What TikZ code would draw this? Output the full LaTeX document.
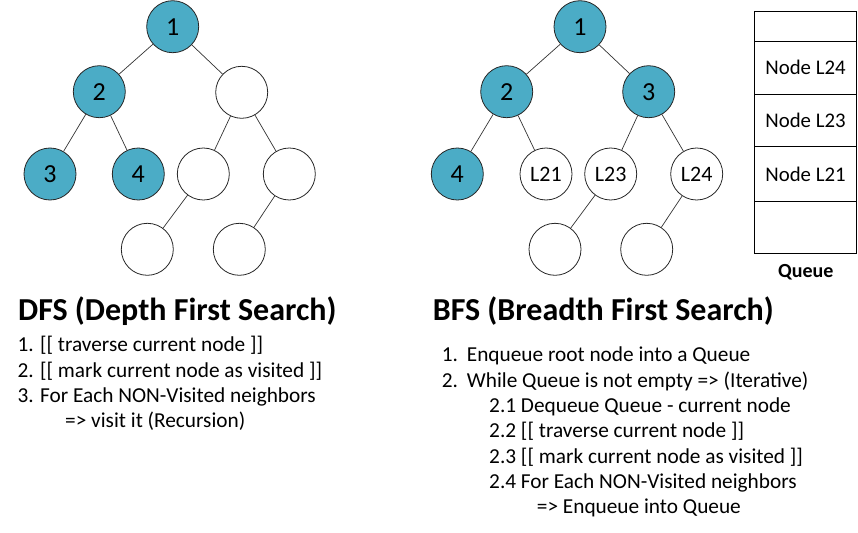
\documentclass[tikz,border=0pt]{standalone}
\usepackage{fontspec}
\setmainfont{Carlito}
\definecolor{visited}{HTML}{4BACC6}
\begin{document}
\begin{tikzpicture}[x=1pt,y=-1pt,
  tn/.style={circle,draw=black!85,line width=0.8pt,minimum size=52pt,inner sep=0pt,font=\fontsize{26}{30}\selectfont},
  vis/.style={tn,fill=visited},
  ln/.style={tn,font=\fontsize{22}{26}\selectfont},
  edge/.style={draw=black!80,line width=0.7pt},
  qcell/.style={draw=black,line width=0.8pt,minimum width=102.4pt,inner sep=0pt,font=\fontsize{20.8}{25}\selectfont},
  title/.style={anchor=base west,inner sep=0pt,font=\bfseries\fontsize{32}{38}\selectfont},
  item/.style={anchor=base west,inner sep=0pt,font=\fontsize{21.3}{25}\selectfont}
]
\useasboundingbox (0,0) rectangle (858,532);
% DFS tree
\node[vis] (a1) at (172.7,26.7) {1};
\node[vis] (a2) at (99.3,91.7) {2};
\node[tn]  (a5) at (241.7,92.3) {};
\node[vis] (a3) at (50,174) {3};
\node[vis] (a4) at (138.3,174) {4};
\node[tn]  (a6) at (203.3,174) {};
\node[tn]  (a7) at (289.3,174) {};
\node[tn]  (a8) at (147.3,249.3) {};
\node[tn]  (a9) at (239.3,249.3) {};
\draw[edge] (a1) -- (a2);
\draw[edge] (a1) -- (a5);
\draw[edge] (a2) -- (a3);
\draw[edge] (a2) -- (a4);
\draw[edge] (a5) -- (a6);
\draw[edge] (a5) -- (a7);
\draw[edge] (a6) -- (a8);
\draw[edge] (a7) -- (a9);
% BFS tree
\node[vis] (b1) at (580,26.7) {1};
\node[vis] (b2) at (506.7,91.7) {2};
\node[vis] (b3) at (648.7,91.7) {3};
\node[vis] (b4) at (457.3,174) {4};
\node[ln]  (b21) at (546,174) {L21};
\node[ln]  (b23) at (610.7,174) {L23};
\node[ln]  (b24) at (696.7,174) {L24};
\node[tn]  (b8) at (555,249.3) {};
\node[tn]  (b9) at (646.7,249.3) {};
\draw[edge] (b1) -- (b2);
\draw[edge] (b1) -- (b3);
\draw[edge] (b2) -- (b4);
\draw[edge] (b2) -- (b21);
\draw[edge] (b3) -- (b23);
\draw[edge] (b3) -- (b24);
\draw[edge] (b23) -- (b8);
\draw[edge] (b24) -- (b9);
% Queue
\node[qcell,minimum height=30pt]   (q0) at (805.5,26.7) {};
\node[qcell,minimum height=52.3pt] (q1) at (805.5,67.85) {Node L24};
\node[qcell,minimum height=52.7pt] (q2) at (805.5,120.35) {Node L23};
\node[qcell,minimum height=54.3pt] (q3) at (805.5,173.85) {Node L21};
\node[qcell,minimum height=52.3pt] (q4) at (805.5,227.15) {};
\node[anchor=base,inner sep=0pt,font=\bfseries\fontsize{20}{24}\selectfont] (ql) at (805.7,277) {Queue};
% DFS text
\node[title] (dt) at (18,320) {DFS (Depth First Search)};
\node[item] (d1) at (17.3,351.7) {1. [[ traverse current node ]]};
\node[item] (d2) at (17.3,377) {2. [[ mark current node as visited ]]};
\node[item] (d3) at (17.3,402.3) {3. For Each NON-Visited neighbors};
\node[item] (d4) at (65,427.7) {=> visit it (Recursion)};
% BFS text
\node[title] (bt) at (432.7,320.7) {BFS (Breadth First Search)};
\node[item] (e1) at (441.7,361.7) {1.};
\node[item] (e1t) at (466.7,361.7) {Enqueue root node into a Queue};
\node[item] (e2) at (441.7,387) {2.};
\node[item] (e2t) at (466.7,387) {While Queue is not empty => (Iterative)};
\node[item] (e3) at (489,412.3) {2.1 Dequeue Queue - current node};
\node[item] (e4) at (489,437.7) {2.2 [[ traverse current node ]]};
\node[item] (e5) at (489,463) {2.3 [[ mark current node as visited ]]};
\node[item] (e6) at (489,488.3) {2.4 For Each NON-Visited neighbors};
\node[item] (e7) at (536.7,513.7) {=> Enqueue into Queue};
\end{tikzpicture}
\end{document}
